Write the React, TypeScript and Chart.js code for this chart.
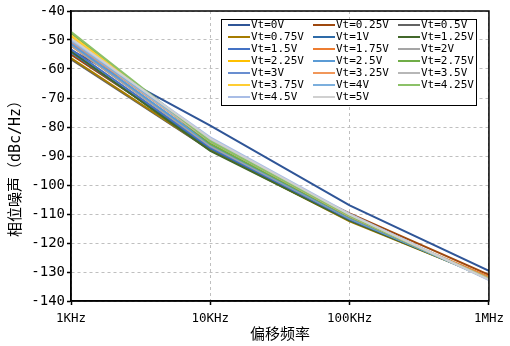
import { useEffect, useRef } from "react";
import { Chart, registerables } from "chart.js";

Chart.register(...registerables);

// Offset frequencies (Hz) and their axis labels
const offsetsHz = [1e3, 1e4, 1e5, 1e6];
const xTickLabels = ["1KHz", "10KHz", "100KHz", "1MHz"];

// Tuning voltages
const vtLabels = [
  "Vt=0V", "Vt=0.25V", "Vt=0.5V", "Vt=0.75V", "Vt=1V", "Vt=1.25V", "Vt=1.5V",
  "Vt=1.75V", "Vt=2V", "Vt=2.25V", "Vt=2.5V", "Vt=2.75V", "Vt=3V", "Vt=3.25V",
  "Vt=3.5V", "Vt=3.75V", "Vt=4V", "Vt=4.25V", "Vt=4.5V", "Vt=5V",
];

// Phase noise (dBc/Hz) at 1K / 10K / 100K / 1M offsets for each tuning voltage
const pnVt0 = [-53.5, -79.5, -107.0, -129.6];
const pnVt025 = [-55.0, -86.5, -109.8, -131.0];
const pnVt05 = [-56.7, -88.0, -112.2, -131.8];
const pnVt075 = [-56.2, -87.8, -112.5, -132.0];
const pnVt1 = [-54.2, -87.4, -112.0, -131.8];
const pnVt125 = [-53.8, -88.2, -112.3, -132.0];
const pnVt15 = [-53.2, -87.0, -111.8, -131.9];
const pnVt175 = [-52.0, -86.3, -111.4, -131.7];
const pnVt2 = [-51.8, -86.6, -111.5, -132.1];
const pnVt225 = [-48.8, -85.6, -111.2, -132.2];
const pnVt25 = [-51.3, -86.0, -111.4, -132.4];
const pnVt275 = [-47.6, -85.8, -111.0, -132.3];
const pnVt3 = [-50.8, -84.6, -110.6, -132.4];
const pnVt325 = [-50.4, -85.0, -110.8, -132.3];
const pnVt35 = [-50.0, -85.0, -110.6, -132.4];
const pnVt375 = [-48.4, -84.6, -110.5, -132.5];
const pnVt4 = [-50.2, -84.2, -110.2, -132.6];
const pnVt425 = [-47.2, -85.0, -110.6, -132.5];
const pnVt45 = [-49.8, -83.6, -110.0, -132.8];
const pnVt5 = [-49.4, -84.0, -110.2, -132.6];

const seriesValues = [
  pnVt0, pnVt025, pnVt05, pnVt075, pnVt1, pnVt125, pnVt15, pnVt175, pnVt2, pnVt225,
  pnVt25, pnVt275, pnVt3, pnVt325, pnVt35, pnVt375, pnVt4, pnVt425, pnVt45, pnVt5,
];

const seriesColors = [
  "#2F5597", "#9E480E", "#636363", "#A67C00", "#2E6BA8", "#43682B", "#4472C4",
  "#ED7D31", "#A5A5A5", "#FFC000", "#5B9BD5", "#70AD47", "#698ED0", "#F1975A",
  "#B7B7B7", "#FFCD33", "#7CAFDD", "#8CC168", "#A9BDE6", "#D0D0D0",
];

const yTitle = "相位噪声（dBc/Hz）";
const xTitle = "偏移频率";

const MONO = '"DejaVu Sans Mono", "Noto Sans CJK SC", monospace';
const CJK = '"DejaVu Sans Mono", "Noto Sans CJK SC", sans-serif';

// Three-column legend box inside the plot area
const legendPlugin = {
  id: "vtLegend",
  afterDatasetsDraw(chart: any) {
    const { ctx, chartArea } = chart;
    const x0 = chartArea.left + 150;
    const y0 = chartArea.top + 8;
    const w = 255;
    const h = 86;
    ctx.save();
    ctx.fillStyle = "#ffffff";
    ctx.fillRect(x0, y0, w, h);
    ctx.strokeStyle = "#000000";
    ctx.lineWidth = 1;
    ctx.strokeRect(Math.round(x0) + 0.5, Math.round(y0) + 0.5, w, h);
    ctx.font = `11px ${MONO}`;
    ctx.textBaseline = "middle";
    ctx.textAlign = "left";
    chart.data.datasets.forEach((ds: any, i: number) => {
      const col = i % 3;
      const row = Math.floor(i / 3);
      const lx = x0 + 7 + col * 85;
      const ly = Math.round(y0 + 6 + row * 12);
      ctx.strokeStyle = ds.borderColor;
      ctx.lineWidth = 2;
      ctx.beginPath();
      ctx.moveTo(lx, ly);
      ctx.lineTo(lx + 22, ly);
      ctx.stroke();
      ctx.fillStyle = "#000000";
      ctx.fillText(ds.label, lx + 23, ly + 0.5);
    });
    ctx.restore();
  },
};

// Solid frame round the plot and the rotated y-axis title
const framePlugin = {
  id: "plotFrame",
  afterDraw(chart: any) {
    const { ctx, chartArea } = chart;
    ctx.save();
    ctx.strokeStyle = "#000000";
    ctx.lineWidth = 1.5;
    ctx.strokeRect(
      chartArea.left,
      chartArea.top,
      chartArea.right - chartArea.left,
      chartArea.bottom - chartArea.top
    );
    ctx.translate(16.5, 165);
    ctx.rotate(-Math.PI / 2);
    ctx.font = `15px ${CJK}`;
    ctx.fillStyle = "#000000";
    ctx.textAlign = "center";
    ctx.textBaseline = "middle";
    ctx.fillText(yTitle, 0, 0);
    ctx.restore();
  },
};

export default function App() {
  const canvasRef = useRef<HTMLCanvasElement | null>(null);

  useEffect(() => {
    if (!canvasRef.current) return;
    Chart.defaults.color = "#000000";
    const chart = new Chart(canvasRef.current, {
      type: "line",
      data: {
        datasets: seriesValues.map((vals, i) => ({
          label: vtLabels[i],
          data: vals.map((v, k) => ({ x: offsetsHz[k], y: v })),
          borderColor: seriesColors[i],
          backgroundColor: seriesColors[i],
          borderWidth: 2,
          pointRadius: 0,
          tension: 0,
          fill: false,
          order: seriesValues.length - i,
        })),
      },
      options: {
        responsive: false,
        animation: false,
        events: [],
        layout: { padding: { left: 0, right: 18, top: 11, bottom: 0 } },
        plugins: {
          legend: { display: false },
          tooltip: { enabled: false },
        },
        scales: {
          x: {
            type: "logarithmic",
            min: offsetsHz[0],
            max: offsetsHz[offsetsHz.length - 1],
            afterBuildTicks: (scale: any) => {
              scale.ticks = offsetsHz.map((v) => ({ value: v }));
            },
            afterFit: (scale: any) => {
              scale.height = 45;
            },
            ticks: {
              autoSkip: false,
              maxRotation: 0,
              padding: 6,
              font: { family: MONO, size: 12.5 },
              color: "#000000",
              callback: (_v: any, index: number) => xTickLabels[index],
            },
            grid: {
              color: "#BFBFBF",
              lineWidth: 1,
              drawTicks: true,
              tickLength: 4,
              tickColor: "#000000",
              tickWidth: 1.5,
              tickBorderDash: [],
            },
            border: { display: true, color: "#000000", width: 1.5, dash: [3, 3] },
            title: {
              display: true,
              text: xTitle,
              font: { family: CJK, size: 15 },
              color: "#000000",
              padding: { top: 0, bottom: 2 },
            },
          },
          y: {
            type: "linear",
            min: -140,
            max: -40,
            afterFit: (scale: any) => {
              scale.width = 71;
            },
            ticks: {
              stepSize: 10,
              padding: 2,
              font: { family: MONO, size: 14 },
              color: "#000000",
            },
            grid: {
              color: "#BFBFBF",
              lineWidth: 1,
              drawTicks: true,
              tickLength: 4,
              tickColor: "#000000",
              tickWidth: 1.5,
              tickBorderDash: [],
            },
            border: { display: true, color: "#000000", width: 1.5, dash: [3, 3] },
          },
        },
      },
      plugins: [legendPlugin, framePlugin],
    } as any);
    return () => chart.destroy();
  }, []);

  return (
    <div style={{ position: "absolute", left: 0, top: 0, width: 510, height: 346, background: "#ffffff" }}>
      <canvas ref={canvasRef} width={510} height={346} />
    </div>
  );
}
